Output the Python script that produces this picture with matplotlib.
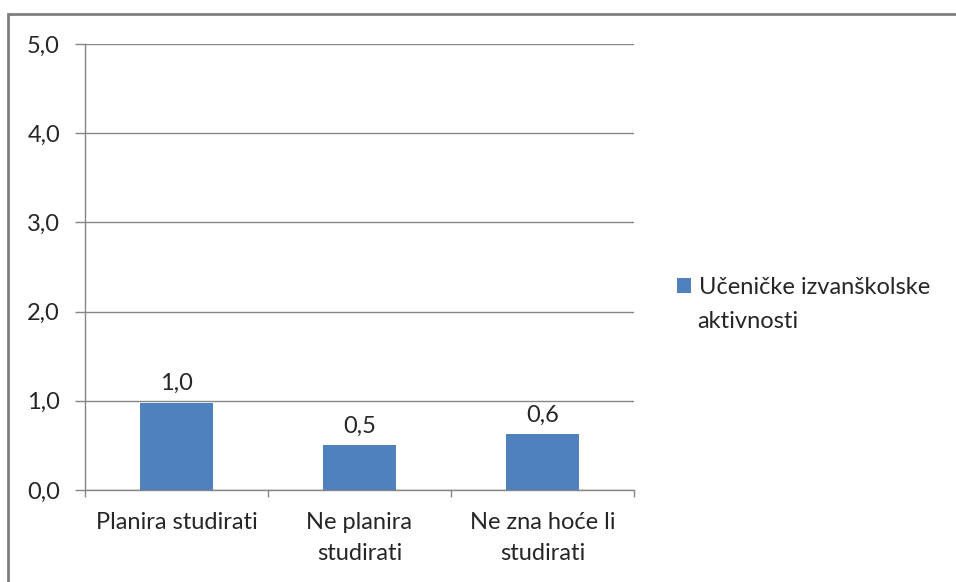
import matplotlib.pyplot as plt
from matplotlib.patches import Rectangle
from matplotlib.ticker import FixedLocator

plt.rcParams['font.family'] = ['Lato', 'DejaVu Sans']

categories = ['Planira studirati', 'Ne planira\nstudirati', 'Ne zna hoće li\nstudirati']
values = [0.98, 0.50, 0.63]
series_name = 'Učeničke izvanškolske'
series_name_2 = 'aktivnosti'
yticks = [0, 1, 2, 3, 4, 5]

bar_color = '#4F81BD'
line_gray = '#868686'
text_color = '#262626'
fs = 17

fig = plt.figure(figsize=(9.56, 5.82), dpi=100)
ax = fig.add_axes([85 / 956, 1 - 490 / 582, 549 / 956, 446 / 582])

x = list(range(len(categories)))
bars = ax.bar(x, values, width=0.4, color=bar_color, zorder=3)

for xi, v in zip(x, values):
    ax.annotate(f'{v:.1f}'.replace('.', ','), (xi, v), xytext=(0, 6),
                textcoords='offset points', ha='center', va='bottom',
                fontsize=fs, color=text_color)

ax.set_xlim(-0.5, len(categories) - 0.5)
ax.set_ylim(0, 5)
ax.set_yticks(yticks)
ax.set_yticklabels([f'{t:.1f}'.replace('.', ',') for t in yticks])
ax.set_xticks(x)
ax.set_xticklabels(categories, linespacing=1.6)
ax.xaxis.set_minor_locator(FixedLocator([i - 0.5 for i in range(len(categories) + 1)]))

ax.tick_params(axis='x', which='major', length=0, pad=16, labelsize=fs, labelcolor=text_color)
ax.tick_params(axis='x', which='minor', length=5, color=line_gray, width=1)
ax.tick_params(axis='y', length=7, color=line_gray, width=1, pad=11, labelsize=fs, labelcolor=text_color)

ax.grid(axis='y', color=line_gray, linewidth=1, zorder=0)
for side in ['top', 'right']:
    ax.spines[side].set_visible(False)
for side in ['left', 'bottom']:
    ax.spines[side].set_color(line_gray)
    ax.spines[side].set_linewidth(1)

leg = fig.legend(handles=[bars], labels=[series_name], loc='center left',
                 bbox_to_anchor=(677 / 956, 1 - 287 / 582), frameon=False,
                 fontsize=fs, handlelength=0.6, handleheight=0.6, handletextpad=0.35,
                 labelcolor=text_color, borderpad=0, borderaxespad=0)
fig.text(697 / 956, 1 - 321 / 582, series_name_2, fontsize=fs, color=text_color,
         ha='left', va='center')

fig.patches.append(Rectangle((8 / 956, -0.1), 1.1, 1 - 14 / 582 + 0.1,
                             transform=fig.transFigure, fill=False,
                             edgecolor='#7f7f7f', linewidth=2))

fig.savefig('out.png', dpi=100)
